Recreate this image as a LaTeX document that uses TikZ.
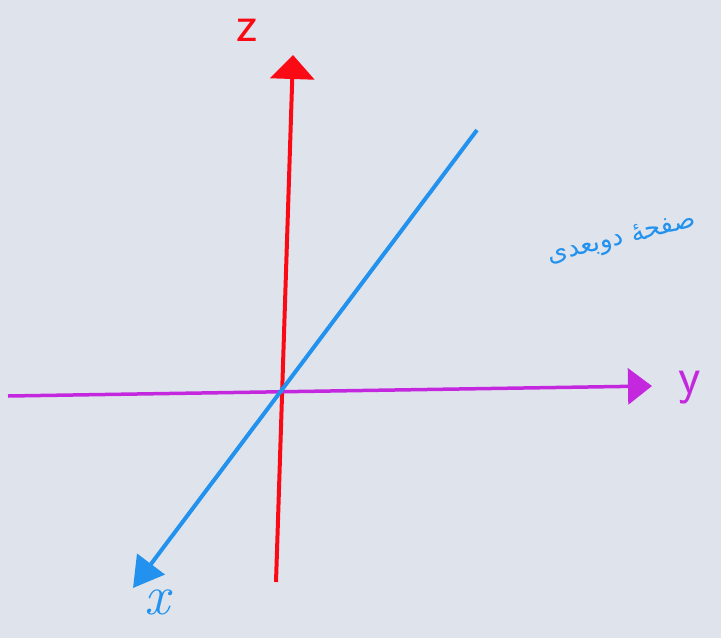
\documentclass[tikz,border=0pt]{standalone}
\usepackage{fontspec}
\newfontfamily\arabicfont[Script=Arabic]{DejaVu Sans}
\TeXXeTstate=1
\usetikzlibrary{arrows.meta}
\definecolor{bg}{RGB}{223,228,236}
\definecolor{zred}{RGB}{250,10,20}
\definecolor{ypurple}{RGB}{196,40,222}
\definecolor{xblue}{RGB}{34,146,238}
\tikzset{
  axis/.style={line width=4pt},
  lbl/.style={inner sep=0pt}
}
\begin{document}
\begin{tikzpicture}[x=1pt,y=-1pt]
\fill[bg] (0,0) rectangle (721,638);
\useasboundingbox (0,0) rectangle (721,638);
\coordinate (zb) at (276,582);
\coordinate (zt) at (293,55);
\coordinate (yl) at (8,396);
\coordinate (yr) at (652,386);
\coordinate (xt) at (477,130);
\coordinate (xb) at (133,588);
\draw[axis, zred, -{Triangle[length=24pt,width=44pt]}] (zb) -- (zt);
\draw[axis, line width=3.5pt, ypurple, -{Triangle[length=24pt,width=36pt]}] (yl) -- (yr);
\draw[axis, xblue, -{Triangle[length=30pt,width=34pt]}] (xt) -- (xb);
\node[lbl, zred, font=\fontsize{52}{52}\sffamily] (zl) at (247,30) {z};
\node[lbl, ypurple, font=\fontsize{52}{52}\sffamily] (ylab) at (690,388) {y};
\node[lbl, xblue, font=\fontsize{56}{56}\itshape] (xlab) at (157,602) {x};
\node[lbl, xblue, rotate=14, anchor=west, font=\arabicfont\fontsize{26}{26}\selectfont] (pl) at (548,258) {\beginR صفحهٔ دوبعدی\endR};
\end{tikzpicture}
\end{document}
